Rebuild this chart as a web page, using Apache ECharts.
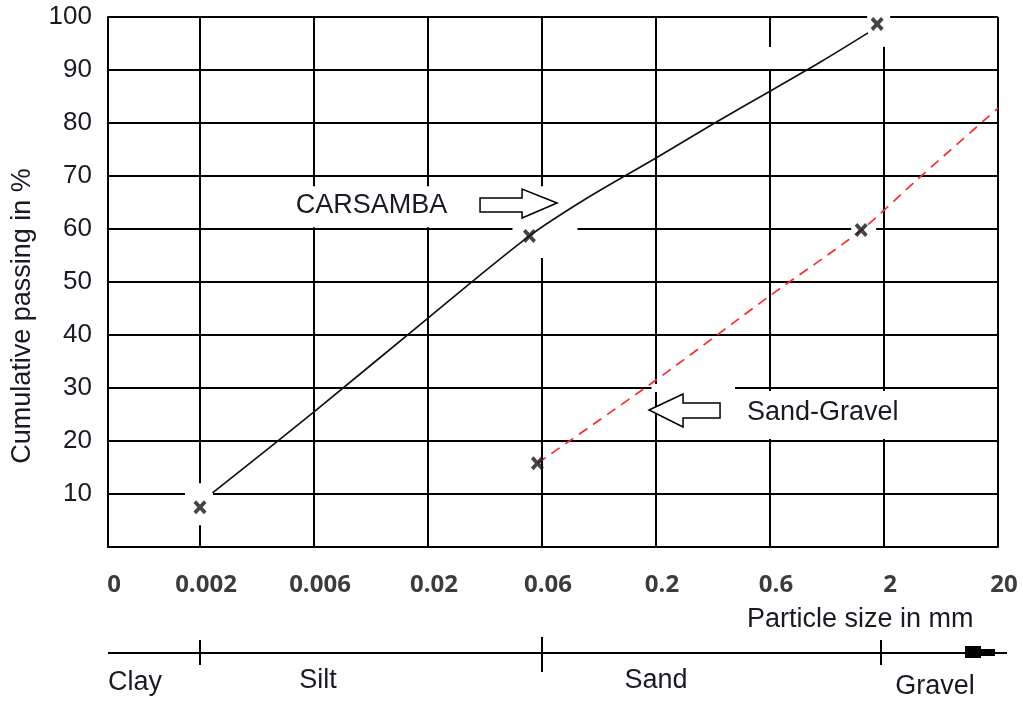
<!DOCTYPE html>
<html><head><meta charset="utf-8">
<script src="https://cdn.jsdelivr.net/npm/echarts@6/dist/echarts.min.js"></script>
<style>html,body{margin:0;padding:0;background:#fff}#c{width:1023px;height:702px}</style>
</head><body><div id="c"></div>
<script>
// ---- data ----
const sizeLabels = ['0', '0.002', '0.006', '0.02', '0.06', '0.2', '0.6', '2', '20'];
const sizeIndex = [0.193, 1, 2, 3, 4, 5, 6, 7, 8];
const passingTicks = [10, 20, 30, 40, 50, 60, 70, 80, 90, 100];
const carsambaMarkers = [[1, 7.5], [3.89, 58.7], [6.94, 98.7]];
const carsambaCurve = [[1.11, 10.2], [2, 25.5], [3, 43.2], [3.89, 58.7], [4.4, 65.9], [5, 73.4], [5.5, 79.8], [6, 86.0], [6.45, 91.6], [6.86, 97]];
const sandGravelMarkers = [[3.96, 15.8], [6.8, 59.8]];
const sandGravelCurve = [[3.96, 15.8], [5, 31.5], [6, 47.4], [6.8, 59.8], [7.3, 69.5], [8, 82.8]];
const soilClasses = ['Clay', 'Silt', 'Sand', 'Gravel'];
const classBoundaries = [1, 4, 7];

const chart = echarts.init(document.getElementById('c'), null, {renderer: 'canvas'});
const TXT = '#1a1a22';
const AR = '"Liberation Sans", Arial, sans-serif';
const xPath = 'path://M0,2 L2,0 L5,3 L8,0 L10,2 L7,5 L10,8 L8,10 L5,7 L2,10 L0,8 L3,5 Z';

chart.setOption({
  animation: false,
  backgroundColor: '#fff',
  grid: {left: 108, right: 25, top: 17, bottom: 155, containLabel: false},
  xAxis: {
    type: 'value', min: sizeIndex[0], max: sizeIndex[sizeIndex.length - 1],
    axisLine: {show: true, lineStyle: {color: '#000', width: 2}},
    axisTick: {show: false, customValues: sizeIndex},
    splitLine: {show: true, lineStyle: {color: '#000', width: 2}},
    axisLabel: {
      customValues: sizeIndex, margin: 26,
      padding: [0, 0, 0, 12],
      fontFamily: '"Open Sans", sans-serif', fontWeight: 'bold', fontSize: 24, color: '#3c3c3c',
      formatter: v => { const i = sizeIndex.findIndex(s => Math.abs(s - v) < 1e-6); return i >= 0 ? sizeLabels[i] : ''; }
    }
  },
  yAxis: {
    type: 'value', min: 0, max: 100, interval: 10,
    axisLine: {show: true, lineStyle: {color: '#000', width: 2}},
    axisTick: {show: false},
    splitLine: {show: true, lineStyle: {color: '#000', width: 2}},
    axisLabel: {
      margin: 16, fontFamily: AR, fontSize: 26, color: TXT,
      formatter: v => passingTicks.includes(v) ? String(v) : ''
    }
  },
  series: [
    {name: 'CARSAMBA', type: 'line', data: carsambaCurve, smooth: 0.3, showSymbol: false,
     lineStyle: {color: '#111', width: 1.7}, z: 2, silent: true},
    {name: 'Sand-Gravel', type: 'line', data: sandGravelCurve, smooth: 0.3, showSymbol: false,
     lineStyle: {color: '#ff2b2b', width: 1.7, type: [10, 7]}, z: 2, silent: true},
    {name: 'CARSAMBA points', type: 'scatter', data: carsambaMarkers, symbol: xPath, symbolSize: [13, 14],
     itemStyle: {color: '#15151c'}, z: 4, silent: true},
    {name: 'Sand-Gravel points', type: 'scatter', data: sandGravelMarkers, symbol: xPath, symbolSize: [13, 14],
     itemStyle: {color: '#15151c'}, z: 4, silent: true}
  ]
});

// ---- annotations anchored on the chart's own scales ----
const P = (x, y) => chart.convertToPixel({gridIndex: 0}, [x, y]);
const g = [];
const box = (x0, y0, x1, y1) => g.push({type: 'rect', silent: true, z: 1, shape: {x: x0, y: y0, width: x1 - x0, height: y1 - y0}, style: {fill: '#fff'}});
const text = (t, x, y, align, font, rot) => g.push({type: 'text', silent: true, z: 5, x: x, y: y, rotation: rot || 0,
  style: {text: t, fill: TXT, font: font, align: align, textAlign: align, verticalAlign: 'middle', textVerticalAlign: 'middle'}});

const origin = P(sizeIndex[0], 0), top100 = P(sizeIndex[0], 100), right = P(sizeIndex[8], 0);
// white boxes behind labels / markers (gaps in the grid)
let a = P(1.84, 64.5);
box(a[0] - 8, a[1] - 19, P(4.15, 0)[0], a[1] + 22);
let m = P(carsambaMarkers[1][0], carsambaMarkers[1][1]);
box(m[0] - 17, m[1] - 21, m[0] + 48, m[1] + 22);
m = P(carsambaMarkers[2][0], carsambaMarkers[2][1]);
box(m[0] - 10, m[1] - 14, m[0] + 13, m[1] + 23);
let q = P(6, 90);
box(q[0] - 5, q[1] - 23, q[0] + 6, q[1] - 1);
m = P(sandGravelMarkers[1][0], sandGravelMarkers[1][1]);
box(m[0] - 10, m[1] - 8, m[0] + 15, m[1] + 8);
m = P(carsambaMarkers[0][0], carsambaMarkers[0][1]);
box(m[0] - 15, m[1] - 24, m[0] + 13, m[1] + 18);
let s = P(5.72, 30);
box(s[0], s[1] + 3, right[0] - 2, P(0, 20)[1] - 2);
box(P(4.96, 0)[0], s[1] - 4, s[0] - 3, s[1] + 4);

// hollow arrows
let t = P(4.132, 64.9);
g.push({type: 'polygon', silent: true, z: 3, shape: {points: [[0, 0], [-35, -14], [-35, -5], [-77, -5], [-77, 9], [-35, 9], [-35, 15]].map(p => [t[0] + p[0], t[1] + p[1]])},
  style: {fill: '#fff', stroke: '#000', lineWidth: 1.5}});
t = P(4.939, 25.85);
g.push({type: 'polygon', silent: true, z: 3, shape: {points: [[0, 0], [34, -16], [34, -7], [71, -7], [71, 8], [34, 8], [34, 17]].map(p => [t[0] + p[0], t[1] + p[1]])},
  style: {fill: '#fff', stroke: '#000', lineWidth: 1.5}});

text('CARSAMBA', a[0], a[1], 'left', '27px ' + AR);
let sg = P(5.798, 25.3);
text('Sand-Gravel', sg[0], sg[1], 'left', '27px ' + AR);

// axis titles
text('Cumulative passing in %', 23, (top100[1] + origin[1]) / 2 + 34, 'center', '27px ' + AR, Math.PI / 2);
text('Particle size in mm', 747, origin[1] + 73, 'left', '27px ' + AR);

// soil classification scale
const ly = origin[1] + 106;
g.push({type: 'line', silent: true, z: 5, shape: {x1: origin[0], y1: ly, x2: right[0] + 9, y2: ly}, style: {stroke: '#000', lineWidth: 2}});
classBoundaries.forEach((b, i) => {
  const bx = P(b, 0)[0] - (i === 2 ? 3 : 0);
  const h = i === 1 ? [16, 19] : [13, 12];
  g.push({type: 'line', silent: true, z: 5, shape: {x1: bx, y1: ly - h[0], x2: bx, y2: ly + h[1]}, style: {stroke: '#000', lineWidth: 2}});
});
g.push({type: 'rect', silent: true, z: 6, shape: {x: right[0] - 33, y: ly - 7, width: 16, height: 12}, style: {fill: '#000'}});
g.push({type: 'rect', silent: true, z: 6, shape: {x: right[0] - 18, y: ly - 4, width: 15, height: 7}, style: {fill: '#000'}});
text(soilClasses[0], origin[0], ly + 30, 'left', '27px ' + AR);
text(soilClasses[1], P(2.035, 0)[0], ly + 28, 'center', '27px ' + AR);
text(soilClasses[2], P(5.0, 0)[0], ly + 28, 'center', '27px ' + AR);
text(soilClasses[3], P(7.447, 0)[0], ly + 34, 'center', '27px ' + AR);

chart.setOption({graphic: g});
</script></body></html>
